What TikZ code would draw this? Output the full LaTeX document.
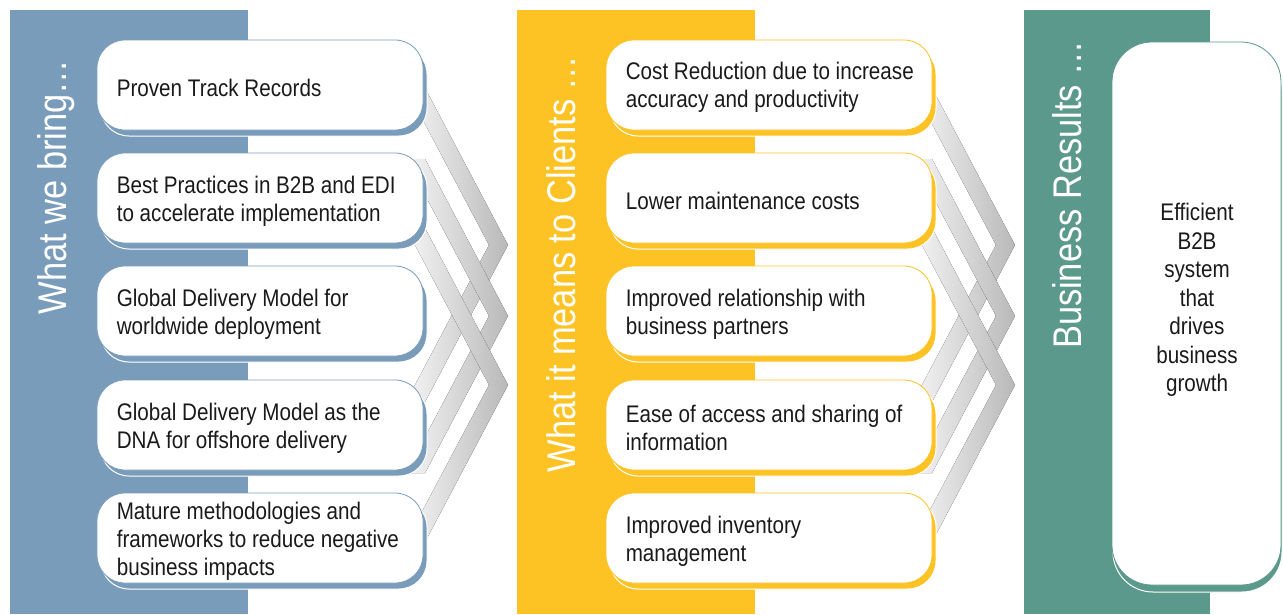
\documentclass[tikz,border=0pt]{standalone}
\usepackage{fontspec}
\setmainfont{Liberation Sans}[FakeStretch=0.86]
\usepackage{xcolor}
\usepackage{tikz}
\usetikzlibrary{shadows}

\definecolor{bringblue}{HTML}{7A9CBB}
\definecolor{meansyellow}{HTML}{FDC325}
\definecolor{resultgreen}{HTML}{5A998B}
\definecolor{boxtext}{HTML}{1A1A1A}

\tikzset{
  panel title/.style={rotate=90, text=white, inner sep=0pt,
    font=\fontsize{40}{44}\selectfont},
  item box/.style={fill=white, draw=#1, line width=0.8pt, rounded corners=28pt,
    minimum width=326pt, minimum height=90pt,
    general shadow={fill=#1, draw=white, line width=1pt,
      shadow xshift=4pt, shadow yshift=-6pt}},
  item text/.style={anchor=west, align=left, inner sep=0pt, text=boxtext,
    font=\fontsize{24}{28}\selectfont},
  result box/.style={fill=white, draw=resultgreen, line width=0.8pt,
    rounded corners=40pt, minimum width=169pt, minimum height=543pt,
    general shadow={fill=resultgreen, draw=white, line width=1pt,
      shadow xshift=1pt, shadow yshift=-7pt}},
  chevron/.style={left color=gray!8, right color=gray!55, draw=none},
}

\begin{document}
\begin{tikzpicture}[x=1pt, y=-1pt]
  \useasboundingbox (0,0) rectangle (1283,614);
  \def\lx{260}
  \def\mx{769}
  \def\pad{20pt}
  % panels
  \fill[bringblue] (10,10) rectangle (248,614);
  \fill[meansyellow] (517,10) rectangle (755,614);
  \fill[resultgreen] (1024,10) rectangle (1210,614);
  % chevrons between the columns
  \foreach \dx in {0,507} {
    \foreach \t in {245,316,385} {
      \fill[chevron]
        (425+\dx,\t-157) -- (508+\dx,\t) -- (425+\dx,\t+157)
        -- (406+\dx,\t+157) -- (489+\dx,\t) -- (406+\dx,\t-157) -- cycle;
    }
  }
  % what we bring
  \node[item box=bringblue] (bring1) at (\lx,85) {};
  \node[item box=bringblue] (bring2) at (\lx,198) {};
  \node[item box=bringblue] (bring3) at (\lx,311) {};
  \node[item box=bringblue] (bring4) at (\lx,425) {};
  \node[item box=bringblue] (bring5) at (\lx,538) {};
  \node[item text] (bring1 text) at ([xshift=\pad, yshift=-3pt]bring1.west)
    {Proven Track Records};
  \node[item text] (bring2 text) at ([xshift=\pad, yshift=-3pt]bring2.west)
    {Best Practices in B2B and EDI\\to accelerate implementation};
  \node[item text] (bring3 text) at ([xshift=\pad, yshift=-3pt]bring3.west)
    {Global Delivery Model for\\worldwide deployment};
  \node[item text] (bring4 text) at ([xshift=\pad, yshift=-3pt]bring4.west)
    {Global Delivery Model as the\\DNA for offshore delivery};
  \node[item text] (bring5 text) at ([xshift=\pad, yshift=-3pt]bring5.west)
    {Mature methodologies and\\frameworks to reduce negative\\business impacts};
  % what it means
  \node[item box=meansyellow] (means1) at (\mx,85) {};
  \node[item box=meansyellow] (means2) at (\mx,198) {};
  \node[item box=meansyellow] (means3) at (\mx,311) {};
  \node[item box=meansyellow] (means4) at (\mx,425) {};
  \node[item box=meansyellow] (means5) at (\mx,538) {};
  \node[item text] (means1 text) at ([xshift=\pad, yshift=-2pt]means1.west)
    {Cost Reduction due to increase\\accuracy and productivity};
  \node[item text] (means2 text) at ([xshift=\pad, yshift=-3pt]means2.west)
    {Lower maintenance costs};
  \node[item text] (means3 text) at ([xshift=\pad, yshift=-3pt]means3.west)
    {Improved relationship with\\business partners};
  \node[item text] (means4 text) at ([xshift=\pad, yshift=-3pt]means4.west)
    {Ease of access and sharing of\\information};
  \node[item text] (means5 text) at ([xshift=\pad, yshift=-3pt]means5.west)
    {Improved inventory\\management};
  % business results
  \node[result box] (result) at (1196.5,313.5) {};
  \node[align=center, text=boxtext, font=\fontsize{24}{28.5}\selectfont]
    (result text) at (1197,300)
    {Efficient\\B2B\\system\\that\\drives\\business\\growth};
  % column titles
  \node[panel title] (bring title) at (56,187) {What we bring…};
  \node[panel title] (means title) at (561,264) {What it means to Clients …};
  \node[panel title] (result title) at (1067,195) {Business Results …};
\end{tikzpicture}
\end{document}
